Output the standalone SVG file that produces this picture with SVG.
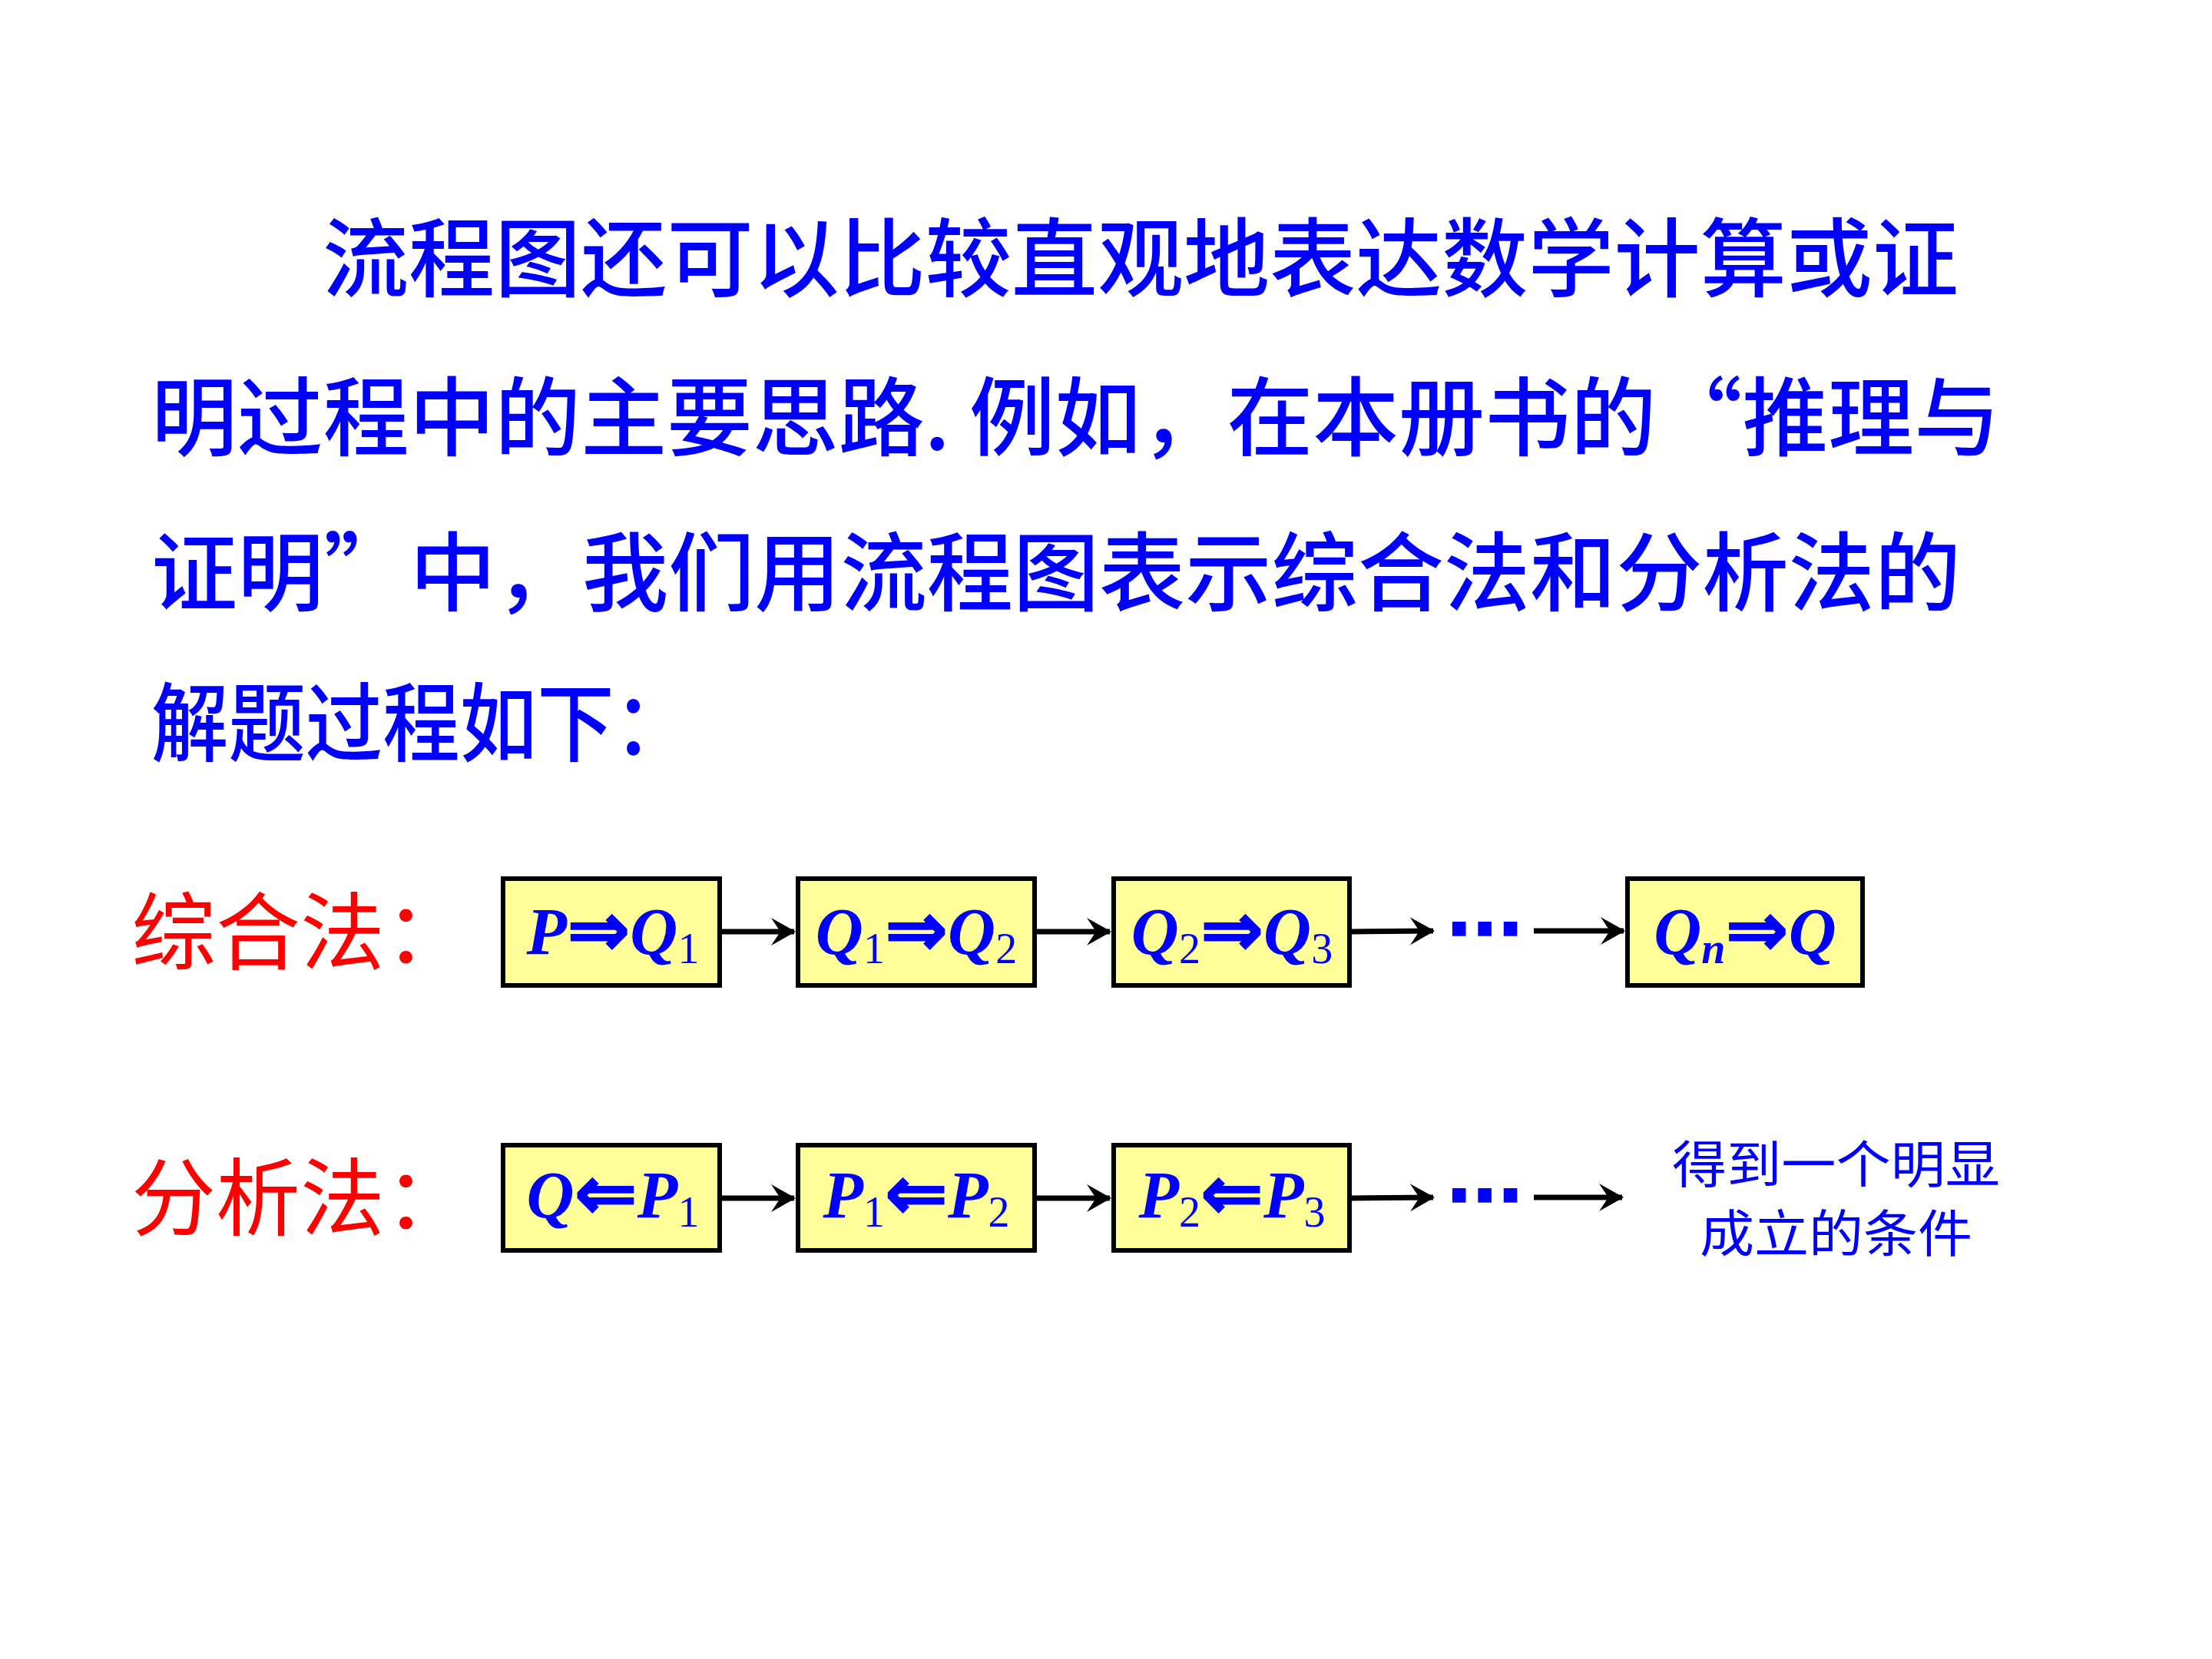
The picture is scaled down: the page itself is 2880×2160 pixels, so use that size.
<svg xmlns="http://www.w3.org/2000/svg" width="2880" height="2160" viewBox="0 0 2880 2160">
<defs>
<style>
.body{font-family:"Noto Sans CJK SC","Noto Sans CJK TC",sans-serif;font-size:112px;font-weight:500;fill:#0000FF}
.lbl{font-family:"Noto Sans CJK SC",sans-serif;font-size:110px;font-weight:400;fill:#FF0000}
.box{fill:#FFFF99;stroke:#000;stroke-width:6}
.bt{font-family:"Liberation Serif","Times New Roman",serif;font-size:86px;font-weight:bold;font-style:italic;fill:#0000FF}
.sub{font-size:56px;font-weight:normal;font-style:normal}
.arr{font-family:"DejaVu Sans",sans-serif;font-weight:bold;font-style:normal;font-size:98px;stroke:#0000FF;stroke-width:2}
.conn{stroke:#000;stroke-width:7;fill:none}
.dots{font-family:"DejaVu Sans",sans-serif;font-size:100px;font-weight:bold;fill:#0000FF}
.res{font-family:"Noto Sans CJK SC",sans-serif;font-size:66px;fill:#0000FF}
</style>
<marker id="ah" markerUnits="userSpaceOnUse" markerWidth="40" markerHeight="40" viewBox="-32 -20 36 40" refX="0" refY="0" orient="auto">
<path d="M2,0 L-30,-18 L-18,0 L-30,18 Z" fill="#000"/>
</marker>
</defs>
<rect width="2880" height="2160" fill="#fff"/>

<g id="paragraph">
<text class="body" x="420" y="378" textLength="2130" lengthAdjust="spacingAndGlyphs">流程图还可以比较直观地表达数学计算或证</text>
<text class="body" x="197" y="585" textLength="2407" lengthAdjust="spacingAndGlyphs">明过程中的主要思路. 例如，在本册书的“推理与</text>
<text class="body" x="197" y="787" textLength="2356" lengthAdjust="spacingAndGlyphs">证明”中，我们用流程图表示综合法和分析法的</text>
<text class="body" x="197" y="983" textLength="703" lengthAdjust="spacingAndGlyphs">解题过程如下：</text>
</g>

<g id="label-synthesis"><text class="lbl" x="171" y="1254">综合法：</text></g>
<g id="label-analysis"><text class="lbl" x="171" y="1600">分析法：</text></g>

<g id="connectors">
<line class="conn" x1="940" y1="1213" x2="1034" y2="1213" marker-end="url(#ah)"/>
<line class="conn" x1="1350" y1="1213" x2="1445" y2="1213" marker-end="url(#ah)"/>
<line class="conn" x1="1760" y1="1213" x2="1866" y2="1212" marker-end="url(#ah)"/>
<line class="conn" x1="1997" y1="1212" x2="2114" y2="1212" marker-end="url(#ah)"/>
<line class="conn" x1="940" y1="1560" x2="1034" y2="1560" marker-end="url(#ah)"/>
<line class="conn" x1="1350" y1="1560" x2="1445" y2="1560" marker-end="url(#ah)"/>
<line class="conn" x1="1760" y1="1560" x2="1866" y2="1559" marker-end="url(#ah)"/>
<line class="conn" x1="1997" y1="1559" x2="2112" y2="1559" marker-end="url(#ah)"/>
<text class="dots" x="1933" y="1244" text-anchor="middle">⋯</text>
<text class="dots" x="1933" y="1591" text-anchor="middle">⋯</text>
</g>

<g id="s1"><rect class="box" x="655" y="1144" width="282" height="139"/>
<text class="bt" x="798" y="1242" text-anchor="middle">P<tspan class="arr" dy="2">⇒</tspan><tspan dy="-2">Q</tspan><tspan class="sub" dy="12">1</tspan></text></g>
<g id="s2"><rect class="box" x="1039" y="1144" width="308" height="139"/>
<text class="bt" x="1193" y="1242" text-anchor="middle">Q<tspan class="sub" dy="12">1</tspan><tspan class="arr" dy="-10">⇒</tspan><tspan dy="-2">Q</tspan><tspan class="sub" dy="12">2</tspan></text></g>
<g id="s3"><rect class="box" x="1450" y="1144" width="307" height="139"/>
<text class="bt" x="1604" y="1242" text-anchor="middle">Q<tspan class="sub" dy="12">2</tspan><tspan class="arr" dy="-10">⇒</tspan><tspan dy="-2">Q</tspan><tspan class="sub" dy="12">3</tspan></text></g>
<g id="s4"><rect class="box" x="2119" y="1144" width="306" height="139"/>
<text class="bt" x="2272" y="1242" text-anchor="middle">Q<tspan font-size="56px" dy="12">n</tspan><tspan class="arr" dy="-10">⇒</tspan><tspan dy="-2">Q</tspan></text></g>

<g id="a1"><rect class="box" x="655" y="1491" width="282" height="137"/>
<text class="bt" x="798" y="1585" text-anchor="middle">Q<tspan class="arr" dy="2">⇐</tspan><tspan dy="-2">P</tspan><tspan class="sub" dy="12">1</tspan></text></g>
<g id="a2"><rect class="box" x="1039" y="1491" width="308" height="137"/>
<text class="bt" x="1193" y="1585" text-anchor="middle">P<tspan class="sub" dy="12">1</tspan><tspan class="arr" dy="-10">⇐</tspan><tspan dy="-2">P</tspan><tspan class="sub" dy="12">2</tspan></text></g>
<g id="a3"><rect class="box" x="1450" y="1491" width="307" height="137"/>
<text class="bt" x="1604" y="1585" text-anchor="middle">P<tspan class="sub" dy="12">2</tspan><tspan class="arr" dy="-10">⇐</tspan><tspan dy="-2">P</tspan><tspan class="sub" dy="12">3</tspan></text></g>

<g id="result">
<text class="res" x="2177" y="1540" textLength="427" lengthAdjust="spacingAndGlyphs">得到一个明显</text>
<text class="res" x="2213" y="1630" textLength="355" lengthAdjust="spacingAndGlyphs">成立的条件</text>
</g>
</svg>
